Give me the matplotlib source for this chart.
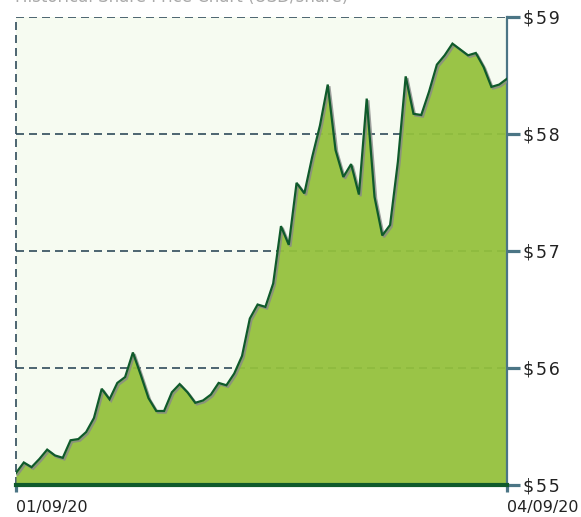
import matplotlib
matplotlib.use("Agg")
import matplotlib.pyplot as plt
import matplotlib.patheffects as pe
import numpy as np

# Daily closing prices, 01/09/20 .. 04/09/20 (trading days)
prices = [
    55.10, 55.19, 55.15, 55.22, 55.30, 55.25, 55.23, 55.38, 55.39, 55.45,
    55.57, 55.82, 55.73, 55.87, 55.92, 56.13, 55.94, 55.74, 55.63, 55.63,
    55.79, 55.86, 55.79, 55.70, 55.72, 55.77, 55.87, 55.85, 55.95, 56.10,
    56.42, 56.54, 56.52, 56.72, 57.21, 57.05, 57.58, 57.49, 57.80, 58.07,
    58.42, 57.86, 57.63, 57.74, 57.48, 58.30, 57.46, 57.13, 57.22, 57.76,
    58.49, 58.17, 58.16, 58.36, 58.59, 58.67, 58.77, 58.72, 58.67, 58.69,
    58.57, 58.40, 58.42, 58.47,
]
x_labels = ["01/09/20", "04/09/20"]
y_ticks = [55, 56, 57, 58, 59]
y_labels = ["$55", "$56", "$57", "$58", "$59"]
title = "Historical Share Price Chart (USD/share)"

W, H = 581, 517
fig = plt.figure(figsize=(W / 100, H / 100), dpi=100)
fig.patch.set_facecolor("white")
ax = fig.add_axes([16 / W, (H - 484.7) / H, (507 - 16) / W, (484.7 - 16.7) / H])
ax.set_facecolor("#f6fbf1")

x = np.arange(len(prices))
ax.set_xlim(0, len(prices) - 1)
ax.set_ylim(55, 59)

grid_col = "#2f4b5a"
for v in y_ticks[1:]:
    ax.axhline(v, color=grid_col, lw=1.2, linestyle=(0, (4.8, 3.0)), zorder=1)
ax.axvline(0, color=grid_col, lw=1.2, linestyle=(0, (4.8, 3.0)), zorder=1, clip_on=False)

ax.fill_between(x, 55, prices, color="#94c13c", alpha=0.94, lw=0, zorder=2)
ax.plot(x, prices, color="#0f5a2b", lw=1.6, zorder=3, solid_joinstyle="miter",
        path_effects=[pe.SimpleLineShadow(offset=(1.2, -1.2), shadow_color="#888888", alpha=0.8),
                      pe.Normal()])

steel = "#4b7585"
for s in ["left", "top"]:
    ax.spines[s].set_visible(False)
ax.spines["right"].set_color(steel)
ax.spines["right"].set_linewidth(1.6)
ax.spines["bottom"].set_color("#0f5a2b")
ax.spines["bottom"].set_linewidth(3)
ax.spines["bottom"].set_zorder(4)

spaced = ["\u200a".join(lbl) for lbl in y_labels]
ax.yaxis.tick_right()
ax.set_yticks(y_ticks)
ax.set_yticklabels(spaced)
ax.tick_params(axis="y", which="both", direction="out", length=9.5, width=2.3,
               color=steel, pad=2, labelsize=12.5, labelcolor="#222222")
ax.set_xticks([0, len(prices) - 1])
ax.set_xticklabels(x_labels)
ax.tick_params(axis="x", direction="out", length=5, width=2.3, color=steel,
               pad=6, labelsize=11.5, labelcolor="#222222")
for lab in ax.get_xticklabels():
    lab.set_horizontalalignment("left")

fig.text(15 / W, 1 + 12 / H, title, ha="left", va="top", fontsize=12, color="#aaaaaa")

fig.savefig("out.png", dpi=100)
